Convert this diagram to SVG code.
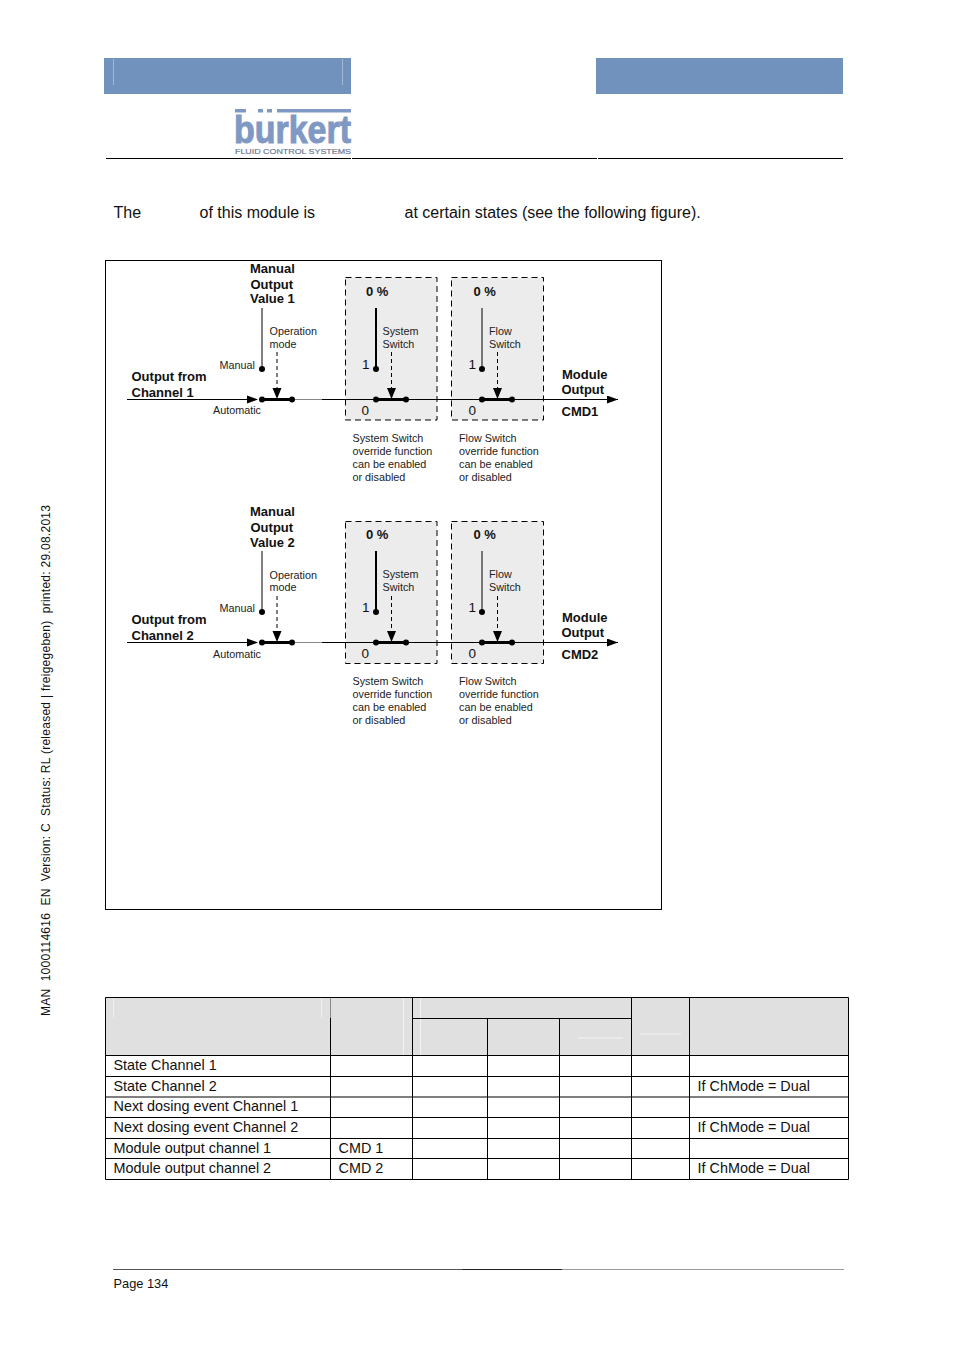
<svg xmlns="http://www.w3.org/2000/svg" width="954" height="1350" viewBox="0 0 954 1350">
<style>
text{font-family:"Liberation Sans",Arial,sans-serif;fill:#111}
.b{font-size:13px;font-weight:bold}
.s{font-size:10.8px;fill:#222}
.m{font-size:13.500px}
.p{font-size:16px}
.t{font-size:14.400px}
.l{stroke:#000;stroke-width:1;fill:none}
.h{stroke:#000;stroke-width:3;fill:none}
.d{stroke:#000;stroke-width:1;stroke-dasharray:4 3;fill:none}
.box{fill:#ececec;stroke:#000;stroke-width:1;stroke-dasharray:6 4}
.g{fill:#e0e0e0}
</style>
<defs>
<marker id="a" markerWidth="12" markerHeight="10" refX="11" refY="4" orient="auto" markerUnits="userSpaceOnUse"><path d="M0 0L11 4L0 8Z" fill="#000"/></marker>
<g id="block">
<path class="l" d="M127 139.500H247"/>
<path d="M247 135.500L258 139.500L247 143.500Z"/>
<path class="l" d="M322 139.500H618" marker-end="url(#a)"/>
<path d="M262 139.500H322" stroke="#888" stroke-width="1"/>
</g>
</defs>
<g id="header">
<rect x="104" y="58" width="247" height="36" fill="#7092bc"/>
<rect x="596" y="58" width="247" height="36" fill="#7092bc"/>
<path d="M113.500 59V85M342.500 59V85" stroke="#a4b9d3" stroke-width="1"/>
<path d="M106 158.500H351M352 158.500H597M598 158.500H843" stroke="#000" stroke-width="1"/>
</g>
<g id="logo" fill="#7f99c4">
<rect x="235" y="109" width="11" height="3.500"/><rect x="258" y="109" width="5" height="3.500"/><rect x="267" y="109" width="5" height="3.500"/><rect x="277" y="109" width="74" height="3.500"/>
<text x="234" y="143" textLength="117" lengthAdjust="spacingAndGlyphs" style="font-size:38px;font-weight:bold;fill:#7f99c4;stroke:#7f99c4;stroke-width:1">burkert</text>
<text x="235" y="154" textLength="116" lengthAdjust="spacingAndGlyphs" style="font-size:8px;fill:#6d7a93;stroke:#6d7a93;stroke-width:.2">FLUID CONTROL SYSTEMS</text>
</g>
<g id="intro">
<text class="p" x="113.500" y="218">The</text>
<text class="p" x="199.500" y="218">of this module is</text>
<text class="p" x="404.500" y="218">at certain states (see the following figure).</text>
</g>
<rect id="frame" x="105.500" y="260.500" width="556" height="649" fill="#fff" stroke="#000"/>
<g id="side"><text transform="translate(50 1016) rotate(-90)" style="font-size:12px;white-space:pre" textLength="511">MAN  1000114616  EN  Version: C  Status: RL (released | freigegeben)  printed: 29.08.2013</text></g>

<g id="channel1">
<rect class="box" x="345.500" y="277.500" width="91.500" height="142.500"/>
<rect class="box" x="451.500" y="277.500" width="92" height="142.500"/>
<use href="#block" y="260"/>
<path class="l" d="M262 308V369"/>
<path class="d" d="M277 352V389"/>
<path d="M272.500 388H281.500L277 399Z"/>
<path class="h" d="M262 399.500H292M376 399.500H406M482 399.500H512"/>
<path class="h" d="M376 308V369" style="stroke-width:2"/>
<path class="l" d="M482 308V369"/>
<path class="d" d="M391.500 352V389M497.500 352V389"/>
<path d="M387 388H396L391.500 399ZM493 388H502L497.500 399Z"/>
<g fill="#000"><circle cx="262" cy="369" r="3"/><circle cx="262" cy="399.500" r="3"/><circle cx="292" cy="399.500" r="3"/><circle cx="376" cy="369" r="3"/><circle cx="376" cy="399.500" r="3"/><circle cx="406" cy="399.500" r="3"/><circle cx="482" cy="369" r="3"/><circle cx="482" cy="399.500" r="3"/><circle cx="512" cy="399.500" r="3"/></g>
<text class="b" x="250" y="273">Manual</text><text class="b" x="250.500" y="289">Output</text><text class="b" x="250" y="303">Value 1</text>
<text class="s" x="269.500" y="335">Operation</text><text class="s" x="269.500" y="348">mode</text>
<text class="s" x="219.500" y="369">Manual</text><text class="s" x="213" y="414">Automatic</text>
<text class="b" x="131.500" y="381">Output from</text><text class="b" x="131.500" y="397">Channel 1</text>
<text class="b" x="366" y="295.500">0 %</text><text class="b" x="473.500" y="295.500">0 %</text>
<text class="s" x="382.500" y="335">System</text><text class="s" x="382.500" y="348">Switch</text>
<text class="s" x="489" y="335">Flow</text><text class="s" x="489" y="348">Switch</text>
<text class="m" x="362" y="369">1</text><text class="m" x="468.500" y="369">1</text>
<text class="m" x="361.500" y="415">0</text><text class="m" x="468.500" y="415">0</text>
<text class="b" x="562" y="379">Module</text><text class="b" x="561.500" y="394">Output</text><text class="b" x="561.500" y="416">CMD1</text>
<text class="s" x="352.500" y="442">System Switch</text><text class="s" x="352.500" y="455">override function</text><text class="s" x="352.500" y="468">can be enabled</text><text class="s" x="352.500" y="481">or disabled</text>
<text class="s" x="459" y="442">Flow Switch</text><text class="s" x="459" y="455">override function</text><text class="s" x="459" y="468">can be enabled</text><text class="s" x="459" y="481">or disabled</text>
</g>

<g id="channel2">
<rect class="box" x="345.500" y="521.500" width="91.500" height="142"/>
<rect class="box" x="451.500" y="521.500" width="92" height="142"/>
<use href="#block" y="503"/>
<path class="l" d="M262 551V612"/>
<path class="d" d="M277 596V632"/>
<path d="M272.500 631H281.500L277 642Z"/>
<path class="h" d="M262 642.500H292M376 642.500H406M482 642.500H512"/>
<path class="h" d="M376 551V612" style="stroke-width:2"/>
<path class="l" d="M482 551V612"/>
<path class="d" d="M391.500 596V632M497.500 596V632"/>
<path d="M387 631H396L391.500 642ZM493 631H502L497.500 642Z"/>
<g fill="#000"><circle cx="262" cy="612" r="3"/><circle cx="262" cy="642.500" r="3"/><circle cx="292" cy="642.500" r="3"/><circle cx="376" cy="612" r="3"/><circle cx="376" cy="642.500" r="3"/><circle cx="406" cy="642.500" r="3"/><circle cx="482" cy="612" r="3"/><circle cx="482" cy="642.500" r="3"/><circle cx="512" cy="642.500" r="3"/></g>
<text class="b" x="250" y="516">Manual</text><text class="b" x="250.500" y="532">Output</text><text class="b" x="250" y="547">Value 2</text>
<text class="s" x="269.500" y="579">Operation</text><text class="s" x="269.500" y="591">mode</text>
<text class="s" x="219.500" y="612">Manual</text><text class="s" x="213" y="658">Automatic</text>
<text class="b" x="131.500" y="624">Output from</text><text class="b" x="131.500" y="640">Channel 2</text>
<text class="b" x="366" y="539">0 %</text><text class="b" x="473.500" y="539">0 %</text>
<text class="s" x="382.500" y="578">System</text><text class="s" x="382.500" y="591">Switch</text>
<text class="s" x="489" y="578">Flow</text><text class="s" x="489" y="591">Switch</text>
<text class="m" x="362" y="612">1</text><text class="m" x="468.500" y="612">1</text>
<text class="m" x="361.500" y="658">0</text><text class="m" x="468.500" y="658">0</text>
<text class="b" x="562" y="622">Module</text><text class="b" x="561.500" y="637">Output</text><text class="b" x="561.500" y="659">CMD2</text>
<text class="s" x="352.500" y="685">System Switch</text><text class="s" x="352.500" y="698">override function</text><text class="s" x="352.500" y="711">can be enabled</text><text class="s" x="352.500" y="724">or disabled</text>
<text class="s" x="459" y="685">Flow Switch</text><text class="s" x="459" y="698">override function</text><text class="s" x="459" y="711">can be enabled</text><text class="s" x="459" y="724">or disabled</text>
</g>

<g id="table">
<rect class="g" x="105" y="997" width="744" height="58"/>
<path d="M113.500 998V1017M321.500 998V1017M403.500 998V1055M420.500 998V1055M578 1038H623M640 1034H681" stroke="#f2f2f2" stroke-width="1"/>
<path d="M105.500 997.500H848.500V1179.500H105.500ZM105.500 1055.500H848.500M105.500 1076.500H848.500M105.500 1097H848.500M105.500 1117.500H848.500M105.500 1138.500H848.500M105.500 1158.500H848.500M412.500 1018.500H631.500M330.500 1018V1179.500M412.500 997.500V1179.500M487.500 1018.500V1179.500M559.500 1018.500V1179.500M631.500 997.500V1179.500M689.500 997.500V1179.500" fill="none" stroke="#000" stroke-width="1"/>
<path d="M330.500 998V1018" stroke="#888" stroke-width="1"/>
<text class="t" x="113.500" y="1070">State Channel 1</text>
<text class="t" x="113.500" y="1091">State Channel 2</text>
<text class="t" x="113.500" y="1111">Next dosing event Channel 1</text>
<text class="t" x="113.500" y="1132">Next dosing event Channel 2</text>
<text class="t" x="113.500" y="1153">Module output channel 1</text>
<text class="t" x="113.500" y="1173">Module output channel 2</text>
<text class="t" x="338.500" y="1153">CMD 1</text>
<text class="t" x="338.500" y="1173">CMD 2</text>
<text class="t" x="697.500" y="1091">If ChMode = Dual</text>
<text class="t" x="697.500" y="1132">If ChMode = Dual</text>
<text class="t" x="697.500" y="1173">If ChMode = Dual</text>
</g>
<g id="footer">
<path d="M113 1269.500H462" stroke="#555"/><path d="M462 1269.500H562" stroke="#222"/><path d="M562 1269.500H844" stroke="#999"/>
<text x="113.500" y="1288" style="font-size:12.800px">Page 134</text>
</g>
</svg>
